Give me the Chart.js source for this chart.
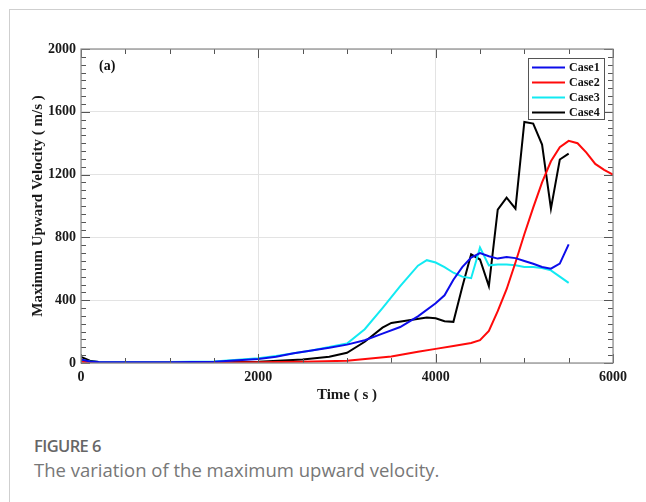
<!DOCTYPE html>
<html>
<head>
<meta charset="utf-8">
<script src="https://cdn.jsdelivr.net/npm/chart.js@4"></script>
<style>
  html, body { margin: 0; padding: 0; background: #fff; }
  body { width: 646px; height: 502px; position: relative; overflow: hidden; }
  .card { position: absolute; left: 9px; top: 9px; right: 0; bottom: 0; border-left: 1px solid #cfcfcf; border-top: 1px solid #cfcfcf; }
  #wrap { position: absolute; left: 0; top: 0; width: 646px; height: 420px; }
  .fig-title { position: absolute; left: 34px; top: 434px; font-family: "Open Sans", sans-serif; font-size: 16.5px; font-weight: 600; color: #666; letter-spacing: -0.6px; }
  .fig-caption { position: absolute; left: 34px; top: 457px; font-family: "Open Sans", sans-serif; font-size: 18.5px; color: #777; }
</style>
</head>
<body>
<div class="card"></div>
<div id="wrap"><canvas id="velocityChart"></canvas></div>
<div class="fig-title">FIGURE 6</div>
<div class="fig-caption">The variation of the maximum upward velocity.</div>
<script>
// --- Data (time in s, velocity in m/s) ---
const seriesNames = ['Case1', 'Case2', 'Case3', 'Case4'];

const case1Time = [0, 100, 200, 500, 1000, 1500, 2000, 2200, 2400, 2600, 2800, 3000, 3200, 3400, 3600, 3800, 4000, 4100, 4200, 4300, 4400, 4500, 4600, 4700, 4800, 4900, 5000, 5100, 5200, 5300, 5400, 5500];
const case1Vel  = [22, 10, 6, 5, 5, 8, 25, 40, 62, 80, 97, 117, 145, 187, 229, 297, 380, 431, 530, 611, 672, 700, 680, 665, 675, 668, 650, 632, 612, 601, 633, 756];

const case2Time = [0, 200, 500, 1000, 1500, 2000, 2500, 3000, 3500, 3800, 4000, 4200, 4400, 4500, 4600, 4700, 4800, 4900, 5000, 5100, 5200, 5300, 5400, 5500, 5600, 5700, 5800, 5900, 6000];
const case2Vel  = [8, 3, 2, 2, 3, 5, 8, 14, 42, 72, 90, 108, 128, 145, 205, 330, 470, 640, 820, 990, 1150, 1285, 1375, 1415, 1400, 1340, 1268, 1230, 1200];

const case3Time = [0, 100, 200, 500, 1000, 1500, 2000, 2200, 2400, 2600, 2800, 3000, 3200, 3400, 3600, 3800, 3900, 4000, 4100, 4200, 4300, 4400, 4500, 4600, 4700, 4800, 4900, 5000, 5100, 5200, 5300, 5400, 5500];
const case3Vel  = [18, 10, 7, 6, 6, 10, 30, 45, 62, 80, 102, 124, 215, 350, 490, 620, 655, 640, 610, 575, 550, 540, 735, 622, 627, 627, 622, 612, 612, 605, 590, 550, 510];

const case4Time = [0, 100, 200, 500, 1000, 1500, 2000, 2500, 2800, 3000, 3200, 3400, 3500, 3700, 3900, 4000, 4100, 4200, 4300, 4400, 4500, 4600, 4700, 4800, 4900, 5000, 5100, 5200, 5300, 5400, 5500];
const case4Vel  = [38, 15, 6, 4, 3, 4, 8, 22, 40, 65, 135, 225, 255, 272, 290, 285, 266, 262, 484, 692, 659, 490, 977, 1053, 983, 1535, 1525, 1391, 983, 1296, 1334];

const seriesColors = ['#0c0cea', '#ff0a0a', '#12eaf2', '#000000'];

const xTicks = [0, 2000, 4000, 6000];
const yTicks = [0, 400, 800, 1200, 1600, 2000];

// --- Helpers ---
const toPoints = (times, vals) => times.map((t, i) => ({ x: t, y: vals[i] }));
const serif = "'Liberation Serif', 'Times New Roman', serif";
const axisFont = { family: serif, size: 14, weight: 'bold' };
const titleFont = { family: serif, size: 15, weight: 'bold' };

// --- Plugin: inward major/minor ticks on all four sides ---
const frameTicks = {
  id: 'frameTicks',
  afterDraw(chart) {
    const { ctx, chartArea: a, scales: { x, y } } = chart;
    ctx.save();
    ctx.strokeStyle = '#555';
    ctx.lineWidth = 1;
    ctx.beginPath();
    for (let t = 0; t <= 6000; t += 500) {
      const px = Math.round(x.getPixelForValue(t)) + 0.5;
      const len = t % 2000 === 0 ? 9 : 5;
      ctx.moveTo(px, a.bottom); ctx.lineTo(px, a.bottom - len);
      ctx.moveTo(px, a.top); ctx.lineTo(px, a.top + len);
    }
    for (let v = 0; v <= 2000; v += 50) {
      const py = Math.round(y.getPixelForValue(v)) + 0.5;
      const len = v % 400 === 0 ? 9 : 5;
      ctx.moveTo(a.left, py); ctx.lineTo(a.left + len, py);
      ctx.moveTo(a.right, py); ctx.lineTo(a.right - len, py);
    }
    ctx.stroke();
    ctx.strokeStyle = '#8a8a8a';
    ctx.lineWidth = 1.2;
    ctx.strokeRect(a.left, a.top, a.right - a.left, a.bottom - a.top);
    ctx.restore();
  }
};

// --- Plugin: boxed legend inside top-right corner, plus panel label ---
const insideLegend = {
  id: 'insideLegend',
  afterDraw(chart) {
    const { ctx, chartArea: a } = chart;
    ctx.save();
    ctx.font = 'bold 14px ' + serif;
    ctx.fillStyle = '#111';
    ctx.textBaseline = 'middle';
    ctx.fillText('(a)', a.left + 18, a.top + 17);

    const boxW = 76, boxH = 61;
    const bx = a.right - 9 - boxW, by = a.top + 9;
    ctx.fillStyle = '#fff';
    ctx.fillRect(bx, by, boxW, boxH);
    ctx.strokeStyle = '#555';
    ctx.lineWidth = 1;
    ctx.strokeRect(bx + 0.5, by + 0.5, boxW, boxH);
    ctx.font = 'bold 12px ' + serif;
    seriesNames.forEach((name, i) => {
      const ry = by + 9.5 + i * 15;
      ctx.strokeStyle = seriesColors[i];
      ctx.lineWidth = 2;
      ctx.beginPath();
      ctx.moveTo(bx + 4, ry); ctx.lineTo(bx + 37, ry);
      ctx.stroke();
      ctx.fillStyle = '#111';
      ctx.fillText(name, bx + 41, ry + 0.5);
    });
    ctx.restore();
  }
};

document.addEventListener('DOMContentLoaded', () => {
  Chart.defaults.font.family = serif;
  const ctx = document.getElementById('velocityChart').getContext('2d');
  const seriesData = [
    toPoints(case1Time, case1Vel),
    toPoints(case2Time, case2Vel),
    toPoints(case3Time, case3Vel),
    toPoints(case4Time, case4Vel)
  ];

  new Chart(ctx, {
    type: 'line',
    data: {
      datasets: seriesNames.map((name, i) => ({
        label: name,
        data: seriesData[i],
        borderColor: seriesColors[i],
        borderWidth: 2,
        pointRadius: 0,
        tension: 0,
        fill: false
      }))
    },
    options: {
      responsive: true,
      maintainAspectRatio: false,
      animation: false,
      layout: { padding: { left: 29, top: 49, right: 33, bottom: 12 } },
      plugins: { legend: { display: false }, tooltip: { enabled: false } },
      scales: {
        x: {
          type: 'linear',
          min: 0, max: 6000,
          afterBuildTicks: (s) => { s.ticks = xTicks.map(v => ({ value: v })); },
          afterFit: (s) => { s.height = 45; },
          ticks: { padding: 6, color: '#1a1a1a', font: axisFont, callback: (v) => String(v) },
          grid: { color: '#e3e3e3', drawTicks: false },
          border: { display: false },
          title: { display: true, text: 'Time ( s )', color: '#1a1a1a', padding: { top: 2 }, font: titleFont }
        },
        y: {
          min: 0, max: 2000,
          afterBuildTicks: (s) => { s.ticks = yTicks.map(v => ({ value: v })); },
          afterFit: (s) => { s.width = 52; },
          ticks: { padding: 5, color: '#1a1a1a', font: axisFont, callback: (v) => String(v) },
          grid: { color: '#e3e3e3', drawTicks: false },
          border: { display: false },
          title: { display: true, text: 'Maximum Upward Velocity ( m/s )', color: '#1a1a1a', padding: { top: 0, bottom: 0 }, font: titleFont }
        }
      }
    },
    plugins: [frameTicks, insideLegend]
  });
});
</script>
</body>
</html>
